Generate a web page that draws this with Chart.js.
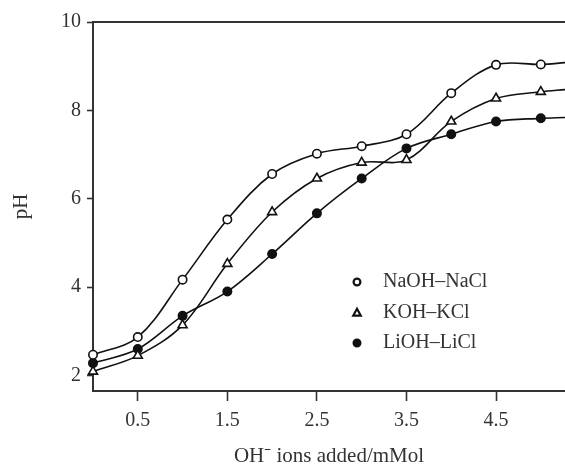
<!DOCTYPE html>
<html>
<head>
<meta charset="utf-8">
<script src="https://cdn.jsdelivr.net/npm/chart.js@4"></script>
<style>
  html, body { margin: 0; padding: 0; background: #fff; }
  #wrap { width: 565px; height: 471px; position: relative; }
</style>
</head>
<body>
<div id="wrap"><canvas id="c" width="565" height="471"></canvas></div>
<script>
// Titration readings: pH against OH- added (mMol)
const ohAdded  = [0, 0.5, 1.0, 1.5, 2.0, 2.5, 3.0, 3.5, 4.0, 4.5, 5.0];
const naohNacl = [2.47, 2.87, 4.17, 5.53, 6.56, 7.02, 7.19, 7.46, 8.39, 9.03, 9.04];
const kohKcl   = [2.09, 2.45, 3.14, 4.53, 5.70, 6.46, 6.82, 6.88, 7.75, 8.27, 8.42];
const liohLicl = [2.28, 2.60, 3.35, 3.90, 4.75, 5.67, 6.46, 7.14, 7.46, 7.75, 7.82];
// the curves carry on past the last reading to the right edge of the plot
const edgeX  = 5.27;
const edgePH = [9.08, 8.47, 7.84];
const seriesNames = ['NaOH\u2013NaCl', 'KOH\u2013KCl', 'LiOH\u2013LiCl'];
const xTicks = [0.5, 1.5, 2.5, 3.5, 4.5];
const yTicks = [2, 4, 6, 8, 10];

const FONT = '"Liberation Serif", "Times New Roman", serif';
const INK = '#333';
const LINE = '#111';

function points(vals, edge) {
  return ohAdded.map((x, i) => ({ x: x, y: vals[i] })).concat([{ x: edgeX, y: edge }]);
}
function markerRadius(r) {
  return ctx => (ctx.dataIndex >= ohAdded.length ? 0 : r);
}

const styles = [
  { pointStyle: 'circle',   radius: 4.2, fill: '#fff' },
  { pointStyle: 'triangle', radius: 5.2, fill: '#fff' },
  { pointStyle: 'circle',   radius: 4.2, fill: LINE }
];
const seriesVals = [naohNacl, kohKcl, liohLicl];

const datasets = seriesVals.map((vals, k) => ({
  label: seriesNames[k],
  data: points(vals, edgePH[k]),
  borderColor: LINE,
  borderWidth: 1.6,
  tension: 0.35,
  pointStyle: styles[k].pointStyle,
  pointRadius: markerRadius(styles[k].radius),
  pointBackgroundColor: styles[k].fill,
  pointBorderColor: LINE,
  pointBorderWidth: 1.6,
  clip: false,
  fill: false
}));

// top frame line and the in-plot key
const framePlugin = {
  id: 'frameAndKey',
  afterDraw(chart) {
    const ctx = chart.ctx;
    const a = chart.chartArea;
    ctx.save();
    ctx.strokeStyle = INK;
    ctx.lineWidth = 2;
    ctx.beginPath();
    ctx.moveTo(a.left - 1, a.top);
    ctx.lineTo(a.right, a.top);
    ctx.stroke();

    const keyX = 357, textX = 383, rows = [282, 313, 343];
    ctx.font = '20px ' + FONT;
    ctx.textBaseline = 'middle';
    ctx.textAlign = 'left';
    rows.forEach((y, k) => {
      ctx.lineWidth = 2.2;
      ctx.strokeStyle = LINE;
      ctx.fillStyle = styles[k].fill;
      ctx.beginPath();
      if (styles[k].pointStyle === 'circle') {
        ctx.arc(keyX, y, 3.4, 0, Math.PI * 2);
      } else {
        const r = 4.3;
        ctx.moveTo(keyX, y - r);
        ctx.lineTo(keyX + r * 0.87, y + r * 0.6);
        ctx.lineTo(keyX - r * 0.87, y + r * 0.6);
        ctx.closePath();
      }
      ctx.fill();
      ctx.stroke();
      ctx.fillStyle = INK;
      ctx.fillText(seriesNames[k], textX, y);
    });
    ctx.restore();
  }
};

new Chart(document.getElementById('c'), {
  type: 'line',
  data: { datasets: datasets },
  plugins: [framePlugin],
  options: {
    responsive: false,
    animation: false,
    events: [],
    layout: { autoPadding: false, padding: { top: 22, right: 0, left: 0, bottom: 0 } },
    plugins: { legend: { display: false }, tooltip: { enabled: false } },
    scales: {
      x: {
        type: 'linear',
        min: 0,
        max: edgeX,
        afterBuildTicks: s => { s.ticks = xTicks.map(v => ({ value: v })); },
        afterFit: s => { s.height = 80; },
        grid: { display: true, drawOnChartArea: false, drawTicks: true, tickLength: 10, tickWidth: 1.6, tickColor: INK },
        border: { display: true, color: INK, width: 2 },
        ticks: {
          font: { family: FONT, size: 20 },
          color: INK,
          padding: 8,
          maxRotation: 0,
          callback: v => Number(v).toFixed(1)
        },
        title: {
          display: true,
          text: 'OH\u207B ions added/mMol',
          font: { family: FONT, size: 21 },
          color: INK,
          padding: { top: 0, bottom: 2 }
        }
      },
      y: {
        type: 'linear',
        min: 1.65,
        max: 10,
        afterBuildTicks: s => { s.ticks = yTicks.map(v => ({ value: v })); },
        afterFit: s => { s.width = 93; },
        grid: { display: true, drawOnChartArea: false, drawTicks: true, tickLength: 6, tickWidth: 1.6, tickColor: INK },
        border: { display: true, color: INK, width: 2 },
        ticks: {
          font: { family: FONT, size: 20 },
          color: INK,
          padding: 6,
          callback: v => String(v)
        },
        title: {
          display: true,
          text: 'pH',
          font: { family: FONT, size: 21 },
          color: INK,
          padding: { top: 9, bottom: 0 }
        }
      }
    }
  }
});
</script>
</body>
</html>
